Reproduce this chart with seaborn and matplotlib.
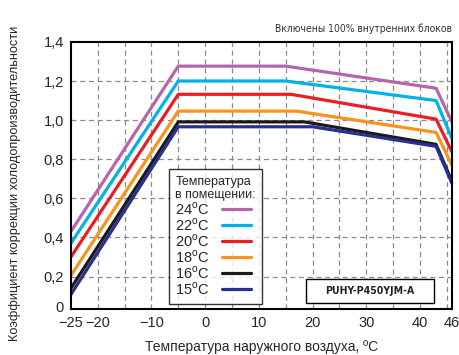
import pandas as pd
import numpy as np
import matplotlib
matplotlib.use('Agg')
import matplotlib.pyplot as plt
import matplotlib.patches as mpatches
import seaborn as sns

# indoor temperature series
indoor = ['24$^{\\rm o}$C', '22$^{\\rm o}$C', '20$^{\\rm o}$C', '18$^{\\rm o}$C', '16$^{\\rm o}$C', '15$^{\\rm o}$C']
colors = ['#B564AE', '#00B2E8', '#EC1C24', '#F7941D', '#1A1A1A', '#2B2F8E']

# breakpoints of each curve (outdoor temperature, ºC)
x_start = [-25, -25, -25, -25, -25, -25]
x_peak = [-5, -5, -5, -5, -5, -5]
x_knee = [15, 15, 16, 17, 18.5, 20]
x_drop = [43, 43, 43, 43, 43, 43]
x_end = [46, 46, 46, 46, 46, 46]

# correction factor at each breakpoint
v_start = [0.43, 0.37, 0.30, 0.205, 0.14, 0.108]
v_peak = [1.276, 1.20, 1.132, 1.046, 0.991, 0.966]
v_knee = [1.276, 1.20, 1.132, 1.046, 0.991, 0.966]
v_drop = [1.163, 1.10, 1.005, 0.937, 0.876, 0.866]
v_end = [0.988, 0.903, 0.835, 0.767, 0.685, 0.674]

xtick_vals = [-25, -20, -10, 0, 10, 20, 30, 40, 46]
xtick_labels = ['−25', '−20', '−10', '0', '10', '20', '30', '40', '46']
ytick_vals = [0.045, 0.2, 0.4, 0.6, 0.8, 1.0, 1.2, 1.4]
ytick_labels = ['0', '0,2', '0,4', '0,6', '0,8', '1,0', '1,2', '1,4']

rows = []
for i, name in enumerate(indoor):
    xs = [x_start[i], x_peak[i], x_knee[i], x_drop[i], x_end[i]]
    vs = [v_start[i], v_peak[i], v_knee[i], v_drop[i], v_end[i]]
    for k in range(len(xs)):
        rows.append({'t': xs[k], 'k': vs[k], 'indoor': name})
df = pd.DataFrame(rows)

sns.set_style('white')
plt.rcParams['font.family'] = ['Liberation Sans', 'DejaVu Sans']
plt.rcParams['mathtext.fontset'] = 'custom'
plt.rcParams['mathtext.rm'] = 'Liberation Sans'

fig = plt.figure(figsize=(4.6, 3.55), dpi=100)
ax = fig.add_axes([0.154, 0.130, 0.829, 0.752])

# dashed grid
for gx in range(-20, 46, 5):
    ax.axvline(gx, color='#8a8a8a', lw=0.9, ls=(0, (4, 3)), zorder=0)
for gy in [0.2, 0.4, 0.6, 0.8, 1.0, 1.2]:
    ax.axhline(gy, color='#8a8a8a', lw=0.9, ls=(0, (4, 3)), zorder=0)

sns.lineplot(data=df, x='t', y='k', hue='indoor', hue_order=indoor,
             palette=colors, sort=False, estimator=None, lw=2.3, ax=ax)

ax.set_xlim(-25, 46)
ax.set_ylim(0.035, 1.4)
ax.set_xticks(xtick_vals)
ax.set_xticklabels(xtick_labels, fontsize=10.5)
ax.set_yticks(ytick_vals)
ax.set_yticklabels(ytick_labels, fontsize=10.5)
ax.tick_params(length=0, pad=5)
for s in ax.spines.values():
    s.set_visible(True)
    s.set_color('black')
    s.set_linewidth(1.5)

ax.set_xlabel('Температура наружного воздуха, ºC', fontsize=10, labelpad=7)
ax.set_ylabel('Коэффициент коррекции холодопроизводительности', fontsize=9.2)
ax.yaxis.set_label_coords(-0.13, 0.47)

leg = ax.legend(title='Температура\nв помещении:', loc='lower left',
                bbox_to_anchor=(0.257, 0.019), borderaxespad=0, markerfirst=False,
                frameon=True, fancybox=False, fontsize=10.5, title_fontsize=9,
                handlelength=2.0, handletextpad=0.8, labelspacing=-0.05,
                borderpad=0.45)
leg._legend_box.align = 'left'
leg.get_frame().set_edgecolor('black')
leg.get_frame().set_linewidth(1.0)

ax.text(0.999, 1.03, 'Включены 100% внутренних блоков', transform=ax.transAxes,
        ha='right', va='bottom', fontsize=7.4, color='#333333',
        family='DejaVu Sans', fontstretch='condensed')

# model name box
ax.add_patch(mpatches.Rectangle((0.617, 0.022), 0.336, 0.09, transform=ax.transAxes,
                                fc='white', ec='black', lw=1.0, zorder=5))
ax.text(0.785, 0.067, 'PUHY-P450YJM-A', transform=ax.transAxes, ha='center', va='center',
        fontsize=7.6, fontweight='bold', color='#222222', zorder=6,
        family='DejaVu Sans', fontstretch='condensed')

fig.savefig('out.png', dpi=100)
